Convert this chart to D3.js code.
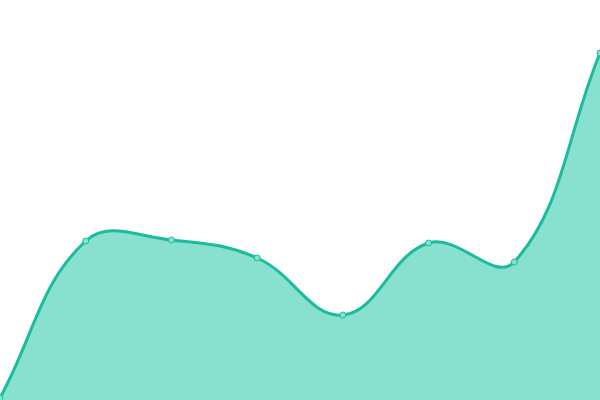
<!DOCTYPE html>
<html><head><meta charset="utf-8">
<script src="https://cdn.jsdelivr.net/npm/d3@7"></script>
<style>html,body{margin:0;padding:0;background:#fff;overflow:hidden}</style>
</head><body>
<svg id="c" width="600" height="400"></svg>
<script>
const categories = ["A","B","C","D","E","F","G","H"];
const values = [2, 159, 160, 142, 85, 157, 138, 347];

const W = 600, H = 400;
const svg = d3.select("#c");
const x = d3.scalePoint().domain(categories).range([0, W]);
const y = d3.scaleLinear().domain([0, 400]).range([H, 0]);
const pts = categories.map((c, i) => [x(c), y(values[i])]);

// Distance-weighted spline (tension 0.4)
const t = 0.4;
const cps = pts.map((cur, i) => {
  const prev = pts[i - 1] || cur, next = pts[i + 1] || cur;
  const d01 = Math.hypot(cur[0] - prev[0], cur[1] - prev[1]);
  const d12 = Math.hypot(next[0] - cur[0], next[1] - cur[1]);
  let s01 = d01 / (d01 + d12), s12 = d12 / (d01 + d12);
  if (isNaN(s01)) s01 = 0; if (isNaN(s12)) s12 = 0;
  const fa = t * s01, fb = t * s12;
  return {
    prev: [cur[0] - fa * (next[0] - prev[0]), cur[1] - fa * (next[1] - prev[1])],
    next: [cur[0] + fb * (next[0] - prev[0]), cur[1] + fb * (next[1] - prev[1])]
  };
});
function linePath(p) {
  p.moveTo(pts[0][0], pts[0][1]);
  for (let i = 1; i < pts.length; i++) {
    const a = cps[i - 1].next, b = cps[i].prev;
    p.bezierCurveTo(a[0], a[1], b[0], b[1], pts[i][0], pts[i][1]);
  }
  return p;
}
const lp = linePath(d3.path());
const ap = linePath(d3.path());
ap.lineTo(pts[pts.length - 1][0], y(0));
ap.lineTo(pts[0][0], y(0));
ap.closePath();

svg.append("path").attr("d", ap.toString()).attr("fill", "#88e0cf");
svg.append("path").attr("d", lp.toString()).attr("fill", "none")
  .attr("stroke", "#1abc9c").attr("stroke-width", 3);
svg.selectAll("circle").data(pts).join("circle")
  .attr("cx", d => d[0]).attr("cy", d => d[1]).attr("r", 3)
  .attr("fill", "#88e0cf").attr("stroke", "#1abc9c").attr("stroke-width", 1);
</script>
</body></html>
